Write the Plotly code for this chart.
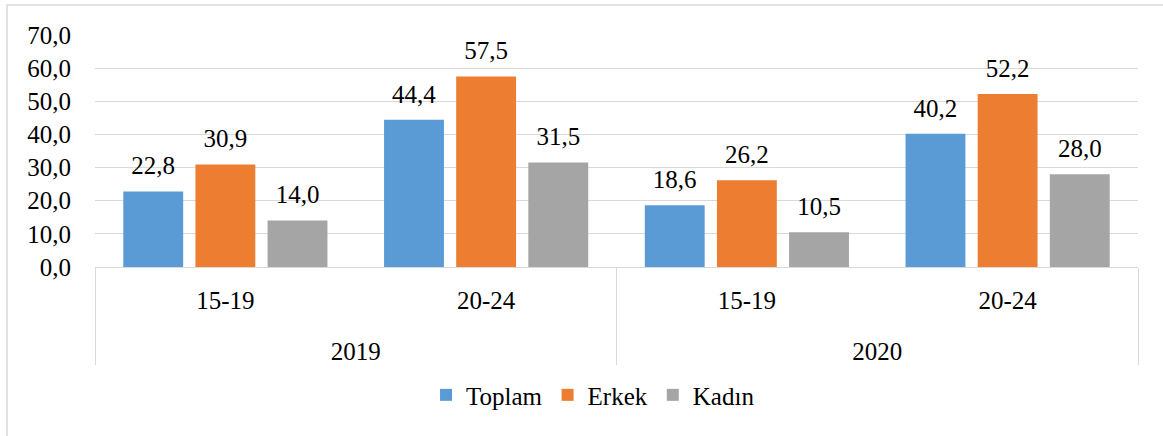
import plotly.graph_objects as go

# Veriler
yillar = ["2019", "2019", "2020", "2020"]
yas_gruplari = ["15-19", "20-24", "15-19", "20-24"]
toplam = [22.8, 44.4, 18.6, 40.2]
erkek = [30.9, 57.5, 26.2, 52.2]
kadin = [14.0, 31.5, 10.5, 28.0]

seriler = [
    ("Toplam", toplam, "#5B9BD5"),
    ("Erkek", erkek, "#ED7D31"),
    ("Kadın", kadin, "#A5A5A5"),
]

# ikinci satır boşluğu: yıl etiketlerini biraz aşağı iter
x_kat = [yillar, [g + "<br> " for g in yas_gruplari]]

fig = go.Figure()
for ad, degerler, renk in seriler:
    fig.add_trace(go.Bar(
        x=x_kat,
        y=degerler,
        name=ad,
        offsetgroup=ad,
        marker=dict(color=renk, line=dict(width=0)),
        hoverinfo="skip",
    ))

# değer etiketleri (çubukların biraz üstünde)
for ad, degerler, renk in seriler:
    fig.add_trace(go.Scatter(
        x=x_kat,
        y=degerler,
        offsetgroup=ad,
        mode="markers+text",
        marker=dict(size=16, color="rgba(0,0,0,0)"),
        texttemplate="%{y:.1f}",
        textposition="top center",
        textfont=dict(size=25, color="#000000"),
        cliponaxis=False,
        showlegend=False,
        hoverinfo="skip",
    ))

grid = "#D9D9D9"
L, R, T, B = 95, 25, 35, 169
W, H = 1163, 436
pw, ph = W - L - R, H - T - B

fig.update_layout(
    width=W, height=H,
    margin=dict(l=L, r=R, t=T, b=B),
    separators=",.",
    font=dict(family="Liberation Serif", size=25, color="#000000"),
    plot_bgcolor="white",
    paper_bgcolor="white",
    barmode="group",
    bargap=0.17,
    bargroupgap=0.17,
    scattermode="group",
    scattergap=0.17,
    showlegend=True,
    legend=dict(orientation="h", x=0.4775, xanchor="center", y=-0.453, yanchor="top",
                font=dict(size=25), itemwidth=30, tracegroupgap=0),
    xaxis=dict(
        type="multicategory",
        showgrid=False,
        showline=True, linecolor=grid, linewidth=1,
        showdividers=True, dividercolor=grid, dividerwidth=1,
        tickfont=dict(size=25),
        ticklabelstandoff=11,
    ),
    yaxis=dict(
        range=[0, 70],
        dtick=10,
        tickformat=".1f",
        showgrid=True, gridcolor=grid, gridwidth=1,
        zeroline=False,
        showline=False,
        ticks="outside", ticklen=18, tickcolor="rgba(0,0,0,0)",
        tickfont=dict(size=25),
    ),
    shapes=[dict(
        type="rect", xref="paper", yref="paper",
        x0=(7 - L) / pw, x1=(W + 10 - L) / pw,
        y0=(H - B - (H + 10)) / ph, y1=(H - B - 5) / ph,
        line=dict(color=grid, width=1.5), fillcolor="rgba(0,0,0,0)", layer="below",
    )],
)

fig.write_html("out.html", config={"displayModeBar": False},
               post_script="document.body.style.margin='0';")
